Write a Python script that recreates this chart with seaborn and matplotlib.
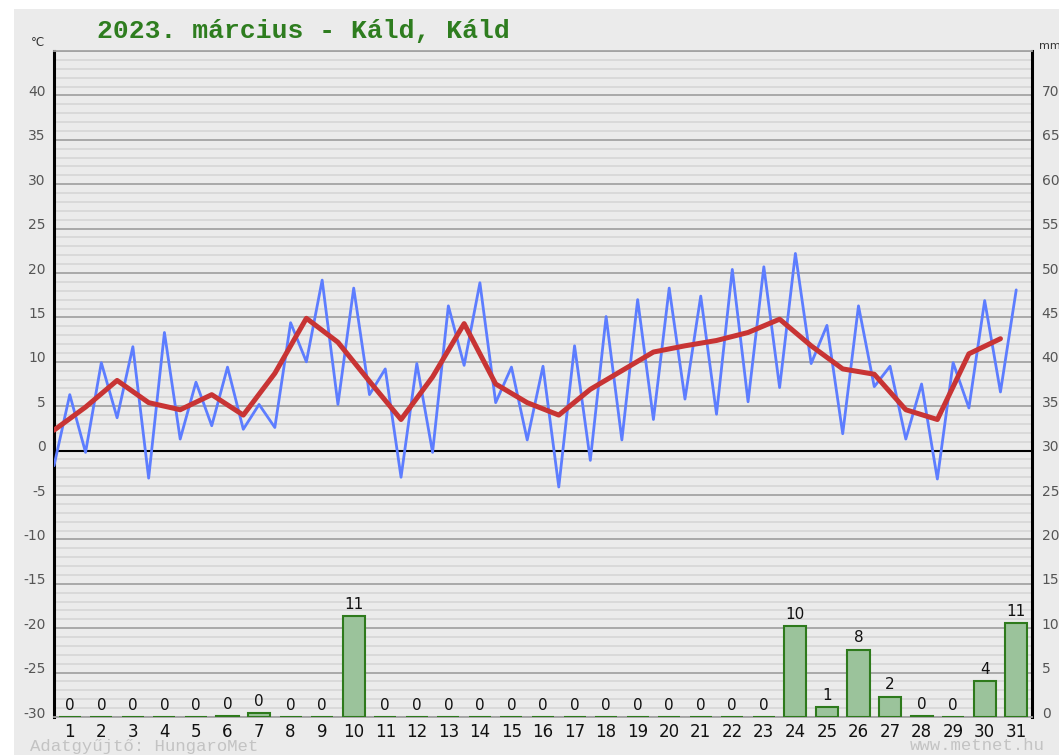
import numpy as np
import pandas as pd
import matplotlib
matplotlib.use("Agg")
import matplotlib.pyplot as plt
import matplotlib.transforms as mtransforms
from matplotlib.patches import Rectangle
import seaborn as sns

# daily values (2023 march, Kald)
days = list(range(1, 32))
t_min = [-1.7, -0.2, 3.7, -3.1, 1.3, 2.8, 2.4, 2.6, 10.0, 5.2, 6.3, -3.0, -0.2, 9.6, 5.4, 1.2,
         -4.1, -1.1, 1.2, 3.5, 5.8, 4.1, 5.5, 7.1, 9.8, 1.9, 7.2, 1.3, -3.2, 4.8, 6.6]
t_max = [6.3, 9.9, 11.7, 13.3, 7.7, 9.4, 5.2, 14.4, 19.2, 18.3, 9.2, 9.8, 16.3, 18.9, 9.4, 9.5,
         11.8, 15.1, 17.0, 18.3, 17.4, 20.4, 20.7, 22.2, 14.1, 16.3, 9.5, 7.5, 9.9, 16.9, 18.1]
t_mean = [2.3, 4.9, 7.9, 5.4, 4.6, 6.3, 4.0, 8.7, 14.9, 12.2, 7.8, 3.5, 8.3, 14.3, 7.5, 5.4,
          4.0, 6.9, 9.0, 11.1, 11.8, 12.4, 13.3, 14.8, 11.8, 9.2, 8.6, 4.6, 3.5, 10.9, 12.6]
precip = [0, 0, 0, 0, 0, 0.1, 0.4, 0, 0, 11.4, 0, 0, 0, 0, 0, 0,
          0, 0, 0, 0, 0, 0, 0, 10.2, 1.1, 7.6, 2.3, 0.1, 0, 4.0, 10.6]
temp_ticks = list(range(-30, 46, 5))
mm_ticks = list(range(0, 71, 5))
title = "2023. március - Káld, Káld"

bg = "#ebebeb"
W, H = 1059, 755

sns.set_style("white")
plt.rcParams['font.family'] = ['DejaVu Sans']

fig = plt.figure(figsize=(W / 100, H / 100), dpi=100, facecolor="white")
fig.patches.append(Rectangle((14 / W, 0), 1, 1 - 9 / H, transform=fig.transFigure,
                             facecolor=bg, edgecolor="none", zorder=-10))
ax = fig.add_axes([54 / W, 1 - 717 / H, (1032 - 54) / W, (717 - 51) / H])
ax.set_facecolor(bg)

# temperature lines: min at start of day, max at mid-day, mean at start of day
blue = pd.DataFrame({
    "x": [v for d in days for v in (d - 0.5, d)],
    "temp": [v for lo, hi in zip(t_min, t_max) for v in (lo, hi)],
})
red = pd.DataFrame({"x": [d - 0.5 for d in days], "temp": t_mean})
sns.lineplot(data=blue, x="x", y="temp", ax=ax, color="#5d7dff", linewidth=2.0, zorder=3)
sns.lineplot(data=red, x="x", y="temp", ax=ax, color="#c83434", linewidth=3.6, zorder=4)
ax.axhline(0, color="black", lw=1.5, zorder=2)

# precipitation bars on the mm axis
ax2 = ax.twinx()
rain = pd.DataFrame({"day": days, "mm": precip})
sns.barplot(data=rain, x="day", y="mm", ax=ax2, native_scale=True, width=0.7,
            color="#9bc39b", edgecolor="#2e7a1c", linewidth=1.5, saturation=1, errorbar=None)
ax2.bar_label(ax2.containers[0], fmt="%.0f", padding=3, fontsize=11, color="#111111")

ax.set_ylim(-30, 45)
ax2.set_ylim(0, 75)
ax.set_xlim(0.5, 31.5)
ax2.set_xlim(0.5, 31.5)
for a in (ax, ax2):
    a.set_xlabel("")
    a.set_ylabel("")

ax.set_xticks(days)
ax.set_xticklabels([str(d) for d in days], fontsize=12, color="#111111")
ax.set_yticks(temp_ticks)
ax.set_yticklabels([str(t) if t < 45 else "" for t in temp_ticks], fontsize=10, color="#555555")
ax.set_yticks(np.arange(-30, 46, 1), minor=True)
ax.tick_params(axis="x", length=0, pad=4)
ax.tick_params(axis="y", which="both", length=0, pad=6)
ax.grid(which="major", axis="y", color="#a3a3a3", lw=1.3)
ax.grid(which="minor", axis="y", color="#d8d8d8", lw=1.3)
ax.grid(axis="x", visible=False)
ax.set_axisbelow(True)

ax2.set_yticks(mm_ticks)
ax2.set_yticklabels([str(m) for m in mm_ticks], fontsize=10, color="#555555")
ax2.tick_params(axis="y", length=0, pad=7)
ax2.grid(False)

for s in ("left", "right"):
    ax.spines[s].set_color("black")
    ax.spines[s].set_linewidth(2.2)
for s in ("top", "bottom"):
    ax.spines[s].set_color("#a3a3a3")
    ax.spines[s].set_linewidth(1.3)
for s in ax2.spines.values():
    s.set_visible(False)

fig.text(97 / W, 1 - 31 / H, title, fontfamily="Liberation Mono", fontweight="bold",
         fontsize=19, color="#2e7d1f", ha="left", va="center")
fig.text(38 / W, 1 - 43 / H, "°C", fontsize=8.5, color="#333333", ha="center", va="center")
fig.text(1039 / W, 1 - 46 / H, "mm", fontsize=8, color="#333333", ha="left", va="center")
fig.text(30 / W, 1 - 746 / H, "Adatgyűjtő: HungaroMet", fontfamily="Liberation Mono",
         fontsize=12.5, color="#c3c3c3", ha="left", va="center")
fig.text(1045 / W, 1 - 746 / H, "www.metnet.hu", fontfamily="Liberation Mono",
         fontsize=12.5, color="#c3c3c3", ha="right", va="center")

# labels sit a little above their grid line
shift = mtransforms.ScaledTranslation(0, 5 / 100, fig.dpi_scale_trans)
for lbl in ax.get_yticklabels() + ax2.get_yticklabels():
    lbl.set_transform(lbl.get_transform() + shift)

fig.savefig("out.png", dpi=100, facecolor="white")
